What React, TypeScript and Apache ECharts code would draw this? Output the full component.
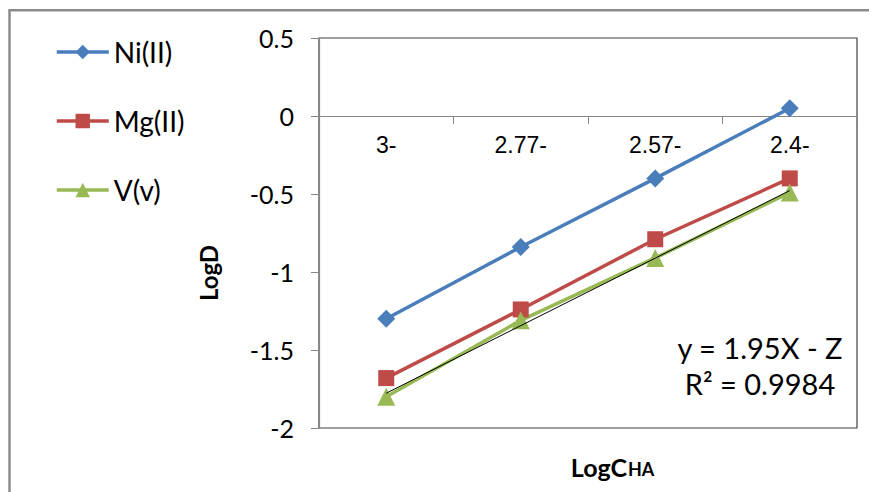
import React, { useEffect, useRef } from "react";
import * as echarts from "echarts";

const categories = ["3-", "2.77-", "2.57-", "2.4-"];
const niValues = [-1.3, -0.84, -0.4, 0.05];
const mgValues = [-1.68, -1.24, -0.79, -0.4];
const vValues = [-1.8, -1.31, -0.91, -0.49];
const seriesNames = ["Ni(II)", "Mg(II)", "V(v)"];
const yMin = -2;
const yMax = 0.5;
const yInterval = 0.5;
const equationText = "y = 1.95X - Z";
const r2Text = "R² = 0.9984";
const yAxisTitle = "LogD";
const xAxisTitleMain = "LogC";
const xAxisTitleSub = "HA";

function linearFit(vals: number[]): number[] {
  const n = vals.length;
  const xs = vals.map((_, i) => i + 1);
  const mx = xs.reduce((a, b) => a + b, 0) / n;
  const my = vals.reduce((a, b) => a + b, 0) / n;
  let sxy = 0;
  let sxx = 0;
  for (let i = 0; i < n; i++) {
    sxy += (xs[i] - mx) * (vals[i] - my);
    sxx += (xs[i] - mx) * (xs[i] - mx);
  }
  const slope = sxy / sxx;
  const b = my - slope * mx;
  return xs.map((x) => +(slope * x + b).toFixed(4));
}

const BLUE = "#4A7EBB";
const RED = "#BE4B48";
const GREEN = "#98B954";
const AXIS_GRAY = "#868686";
const FONT = "Lato, 'Open Sans', sans-serif";

const GRID_TOP = 38;
const GRID_BOTTOM = 64;
const CHART_H = 492;

export default function App() {
  const ref = useRef<HTMLDivElement>(null);
  useEffect(() => {
    if (!ref.current) return;
    const chart = echarts.init(ref.current, null, { renderer: "svg" });
    const trend = linearFit(vValues);
    const plotH = CHART_H - GRID_TOP - GRID_BOTTOM;
    const zeroOffset = -((0 - yMin) / (yMax - yMin)) * plotH;
    chart.setOption({
      animation: false,
      backgroundColor: "#ffffff",
      grid: {
        left: 319,
        right: 12,
        top: GRID_TOP,
        bottom: GRID_BOTTOM,
        show: true,
        borderColor: "#404040",
        borderWidth: 1.2,
        backgroundColor: "transparent",
      },
      legend: {
        orient: "vertical",
        left: 50,
        top: 33,
        itemWidth: 52,
        itemHeight: 18,
        itemGap: 41,
        data: seriesNames,
        lineStyle: { width: 3.5 },
        textStyle: { fontFamily: FONT, fontSize: 28, color: "#000" },
      },
      xAxis: {
        type: "category",
        data: categories,
        boundaryGap: true,
        position: "bottom",
        offset: zeroOffset,
        axisLine: { onZero: false, lineStyle: { color: AXIS_GRAY, width: 1.2 } },
        axisTick: { show: true, length: 8, lineStyle: { color: AXIS_GRAY } },
        axisLabel: {
          margin: 17,
          fontFamily: "'Liberation Sans', Arial, sans-serif",
          fontSize: 23,
          color: "#000",
        },
        splitLine: { show: false },
      },
      yAxis: {
        type: "value",
        min: yMin,
        max: yMax,
        interval: yInterval,
        axisLine: { show: true, lineStyle: { color: AXIS_GRAY, width: 1.2 } },
        axisTick: { show: true, length: 8, lineStyle: { color: AXIS_GRAY } },
        axisLabel: {
          margin: 25,
          fontFamily: FONT,
          fontSize: 25,
          color: "#000",
        },
        splitLine: { show: false },
      },
      series: [
        {
          name: seriesNames[0],
          type: "line",
          data: niValues,
          symbol: "diamond",
          symbolSize: 18,
          lineStyle: { color: BLUE, width: 3.5 },
          itemStyle: { color: BLUE },
          z: 3,
        },
        {
          name: seriesNames[1],
          type: "line",
          data: mgValues,
          symbol: "rect",
          symbolSize: 16,
          lineStyle: { color: RED, width: 3.5 },
          itemStyle: { color: RED },
          z: 3,
        },
        {
          name: seriesNames[2],
          type: "line",
          data: vValues,
          symbol: "triangle",
          symbolSize: 18,
          lineStyle: { color: GREEN, width: 3.5 },
          itemStyle: { color: GREEN },
          z: 3,
        },
        {
          name: "trend",
          type: "line",
          data: trend,
          symbol: "none",
          lineStyle: { color: "#000", width: 1 },
          z: 4,
          silent: true,
        },
      ],
      graphic: [
        {
          type: "rect",
          shape: { x: 9.5, y: 10.2, width: 900, height: 520 },
          style: { fill: "none", stroke: "#8c8c8c", lineWidth: 2.5 },
          z: 0,
        },
        {
          type: "text",
          x: 208,
          y: 273,
          rotation: Math.PI / 2,
          style: {
            text: yAxisTitle,
            align: "center",
            verticalAlign: "middle",
            font: `bold 24px ${FONT}`,
            fill: "#000",
          },
        },
        {
          type: "text",
          x: 627,
          y: 466.5,
          style: {
            text: xAxisTitleMain,
            align: "right",
            verticalAlign: "middle",
            font: `bold 25px ${FONT}`,
            fill: "#000",
          },
        },
        {
          type: "text",
          x: 628,
          y: 468.5,
          style: {
            text: xAxisTitleSub,
            align: "left",
            verticalAlign: "middle",
            font: `bold 18px ${FONT}`,
            fill: "#000",
          },
        },
        {
          type: "text",
          x: 760,
          y: 347,
          style: {
            text: equationText,
            align: "center",
            verticalAlign: "middle",
            font: `29px ${FONT}`,
            fill: "#000",
          },
        },
        {
          type: "text",
          x: 760,
          y: 383,
          style: {
            text: r2Text,
            align: "center",
            verticalAlign: "middle",
            font: `29px ${FONT}`,
            fill: "#000",
          },
        },
      ],
    });
    return () => chart.dispose();
  }, []);
  return (
    <div
      ref={ref}
      style={{ position: "absolute", left: 0, top: 0, width: 869, height: 492 }}
    />
  );
}
